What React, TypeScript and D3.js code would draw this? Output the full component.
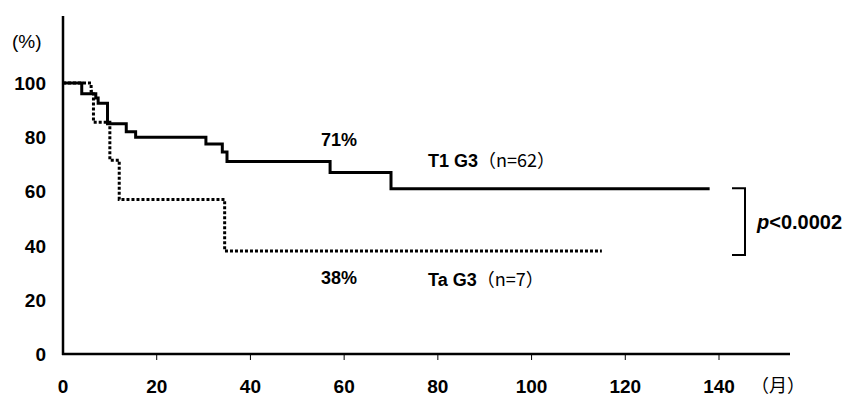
import React from 'react';
import * as d3 from 'd3';

// T1 G3 (solid)
const t1Months = [0, 4, 7, 7.5, 9.5, 13.5, 15.5, 30.5, 34, 35, 57, 70, 138];
const t1Values = [100, 96, 94.5, 92.5, 85, 82, 80, 77.5, 74.5, 71, 67, 61, 61];
// Ta G3 (dotted)
const taMonths = [0, 6, 6.5, 10, 12, 34.5, 115];
const taValues = [100, 97, 85.5, 71.5, 57, 38, 38];

const xTicks = [0, 20, 40, 60, 80, 100, 120, 140];
const yTicks = [0, 20, 40, 60, 80, 100];

const W = 851;
const H = 398;
const font = '"Liberation Sans", Arial, sans-serif';
const cjk = '"Noto Sans CJK JP", "Noto Sans", sans-serif';

const App = () => {
  const x = d3.scaleLinear().domain([0, 140]).range([63, 719]);
  const y = d3.scaleLinear().domain([0, 100]).range([354, 83]);

  const line = d3.line<[number, number]>()
    .x(d => x(d[0]))
    .y(d => y(d[1]))
    .curve(d3.curveStepAfter);

  const t1 = t1Months.map((m, i) => [m, t1Values[i]] as [number, number]);
  const ta = taMonths.map((m, i) => [m, taValues[i]] as [number, number]);

  const bTop = y(61.2);
  const bBot = y(36.5);

  return (
    <svg width={W} height={H} style={{ position: 'absolute', left: 0, top: 0, background: '#fff' }}>
      {/* axes */}
      <line x1={63} y1={16} x2={63} y2={355} stroke="#000" strokeWidth={2.5} />
      <line x1={62} y1={354} x2={790} y2={354} stroke="#000" strokeWidth={2.5} />
      {xTicks.filter(t => t > 0).map(t => (
        <line key={t} x1={x(t)} x2={x(t)} y1={354} y2={360} stroke="#000" strokeWidth={1} />
      ))}
      {xTicks.map(t => (
        <text key={t} x={x(t)} y={393} textAnchor="middle" fontFamily={font} fontWeight="bold" fontSize={19}>{t}</text>
      ))}
      <text x={751} y={392} fontFamily={cjk} fontSize={18}>（月）</text>
      {yTicks.map(t => (
        <text key={t} x={46} y={y(t) + 7} textAnchor="end" fontFamily={font} fontWeight="bold" fontSize={19}>{t}</text>
      ))}
      <text x={12} y={48} fontFamily={font} fontSize={19}>(%)</text>

      {/* curves */}
      <path d={line(ta) || ''} fill="none" stroke="#000" strokeWidth={3} strokeDasharray="3,2" />
      <path d={line(t1) || ''} fill="none" stroke="#000" strokeWidth={3} />

      {/* labels */}
      <text x={339} y={146} textAnchor="middle" fontFamily={font} fontWeight="bold" fontSize={18}>71%</text>
      <text x={428} y={167} fontFamily={font} fontSize={18}>
        <tspan fontWeight="bold">T1 G3</tspan>
        <tspan fontFamily={cjk} fontSize={18}>（n=62）</tspan>
      </text>
      <text x={339} y={284} textAnchor="middle" fontFamily={font} fontWeight="bold" fontSize={18}>38%</text>
      <text x={428} y={286} fontFamily={font} fontSize={18}>
        <tspan fontWeight="bold">Ta G3</tspan>
        <tspan fontFamily={cjk} fontSize={18}>（n=7）</tspan>
      </text>

      {/* bracket */}
      <path d={`M732,${bTop}H745V${bBot}H732`} fill="none" stroke="#000" strokeWidth={2} />
      <text x={757} y={229} fontFamily={font} fontWeight="bold" fontSize={20}>
        <tspan fontStyle="italic">p</tspan>&lt;0.0002
      </text>
    </svg>
  );
};

export default App;
